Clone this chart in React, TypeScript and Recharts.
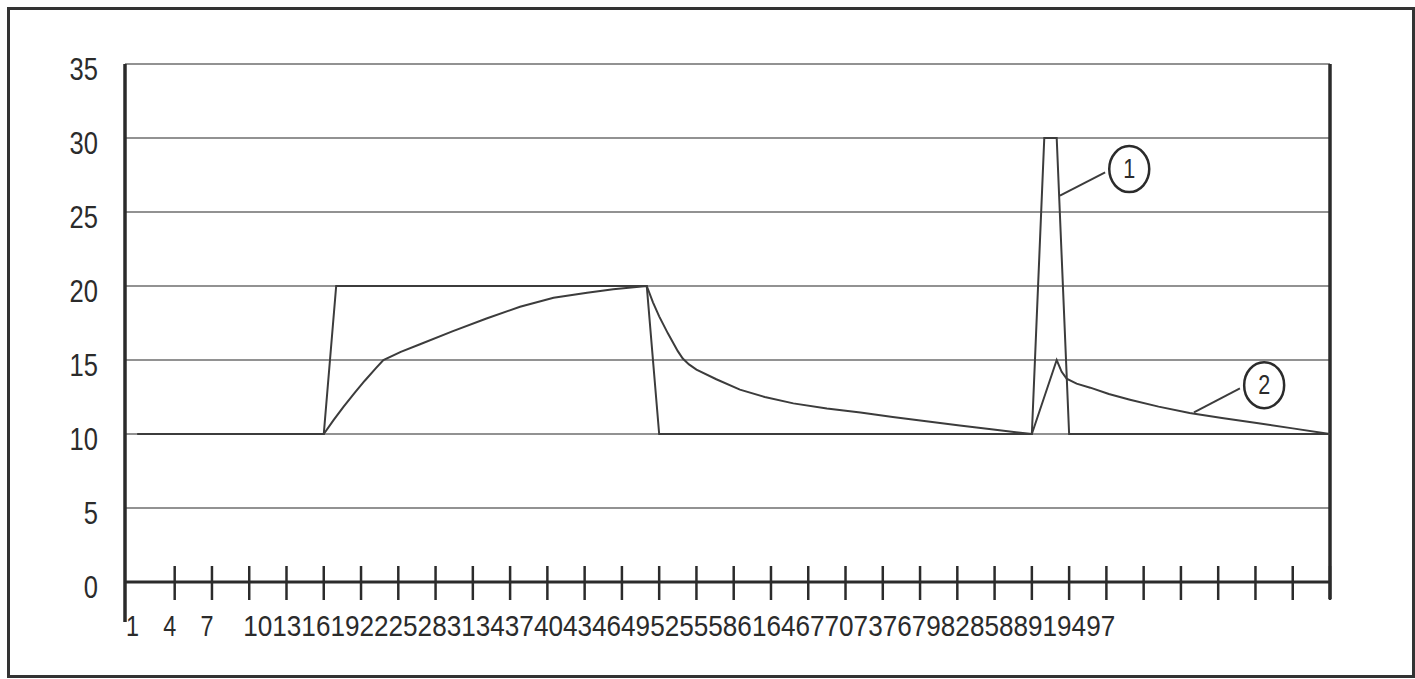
import React from "react";
import {
  CartesianGrid,
  Line,
  LineChart,
  ReferenceDot,
  ReferenceLine,
  XAxis,
  YAxis,
} from "recharts";

const xTicks = [1, 4, 7, 10, 13, 16, 19, 22, 25, 28, 31, 34, 37, 40, 43, 46, 49, 52, 55, 58, 61, 64, 67, 70, 73, 76, 79, 82, 85, 88, 91, 94, 97];
const yTicks = [0, 5, 10, 15, 20, 25, 30, 35];

// curve 1: square input
const pulseX = [1, 16, 17, 42, 43, 73, 74, 75, 76, 97];
const pulseY = [10, 10, 20, 20, 10, 10, 30, 30, 10, 10];

// curve 2: response
const responseX = [
  1, 16, 16.8, 17.6, 18.5, 19.3, 20.2, 20.8, 22.2, 23.7, 26.4, 29.1, 31.8, 34.5, 37.2, 39.3, 42,
  42.5, 43.0, 43.7, 44.5, 44.9, 45.4, 46, 47.6, 49.5, 51.5, 53.8, 56.5, 59.2, 61.8, 64.5, 67.2, 69.9, 73,
  75, 75.4, 75.8, 76.6, 77.7, 79.2, 80.9, 83.2, 85.7, 88.3, 91.1, 94, 97,
];
const responseY = [
  10, 10, 10.95, 11.85, 12.8, 13.6, 14.45, 15, 15.55, 16.05, 16.95, 17.8, 18.6, 19.2, 19.55, 19.78, 20,
  18.9, 17.95, 16.8, 15.6, 15.1, 14.7, 14.35, 13.7, 13, 12.5, 12.07, 11.72, 11.45, 11.15, 10.86, 10.58, 10.3, 10,
  15, 14.2, 13.74, 13.4, 13.13, 12.7, 12.32, 11.85, 11.42, 11.08, 10.74, 10.38, 10,
];

const pulse = pulseX.map((x, i) => ({ x, v: pulseY[i] }));
const response = responseX.map((x, i) => ({ x, v: responseY[i] }));

const face = "'Liberation Sans', Arial, sans-serif";
const ink = "#2b2b2b";
const lineInk = "#3c3c3c";

function XTick({ x, y, payload }: any) {
  const v = payload.value as number;
  let label = null;
  if (v < 10) {
    label = (
      <text
        x={x - 5}
        y={y + 54}
        textAnchor="middle"
        fontFamily={face}
        fontSize={30}
        fill={ink}
        textLength={13}
        lengthAdjust="spacingAndGlyphs"
      >
        {v}
      </text>
    );
  } else if (v === 10) {
    label = (
      <text
        x={x - 6}
        y={y + 54}
        textAnchor="start"
        fontFamily={face}
        fontSize={30}
        fill={ink}
        textLength={872}
        lengthAdjust="spacingAndGlyphs"
      >
        {xTicks.filter((n) => n >= 10).join("")}
      </text>
    );
  }
  return (
    <g>
      {v >= 4 && <line x1={x} x2={x} y1={y - 16} y2={y + 18} stroke={ink} strokeWidth={2.5} />}
      {label}
    </g>
  );
}

function YTick({ x, y, payload }: any) {
  const s = String(payload.value);
  return (
    <text
      x={x - 27}
      y={y + 16}
      textAnchor="end"
      fontFamily={face}
      fontSize={32}
      fill={ink}
      textLength={14.2 * s.length}
      lengthAdjust="spacingAndGlyphs"
    >
      {s}
    </text>
  );
}

function Badge({ cx, cy, label }: any) {
  return (
    <g>
      <ellipse cx={cx} cy={cy} rx={20} ry={23} fill="#fff" stroke={ink} strokeWidth={2.5} />
      <text
        x={cx}
        y={cy + 9}
        textAnchor="middle"
        fontFamily={face}
        fontSize={27}
        fill={ink}
        textLength={12}
        lengthAdjust="spacingAndGlyphs"
      >
        {label}
      </text>
    </g>
  );
}

export default function App() {
  return (
    <div
      style={{
        position: "absolute",
        left: 7,
        top: 7,
        width: 1408,
        height: 671,
        boxSizing: "border-box",
        border: "3px solid #333",
        background: "#fff",
      }}
    >
      <LineChart width={1402} height={665} margin={{ top: 54, right: 82, bottom: 33, left: 0 }}>
        <CartesianGrid vertical={false} stroke="#6e6e6e" strokeWidth={1.6} />
        <XAxis
          type="number"
          dataKey="x"
          domain={[0, 97]}
          ticks={xTicks}
          interval={0}
          height={60}
          tickSize={0}
          tickMargin={0}
          tickLine={false}
          axisLine={{ stroke: ink, strokeWidth: 3 }}
          tick={<XTick />}
          allowDataOverflow
        />
        <YAxis
          type="number"
          domain={[0, 35]}
          ticks={yTicks}
          width={115}
          tickSize={0}
          tickMargin={0}
          tickLine={false}
          axisLine={false}
          tick={<YTick />}
        />
        <ReferenceLine
          segment={[{ x: 0, y: 35 }, { x: 0, y: -2.7 }]}
          stroke={ink}
          strokeWidth={3.5}
          ifOverflow="visible"
        />
        <ReferenceLine
          segment={[{ x: 97, y: 35 }, { x: 97, y: -1.15 }]}
          stroke={ink}
          strokeWidth={3.5}
          ifOverflow="visible"
        />
        <Line
          data={pulse}
          dataKey="v"
          type="linear"
          stroke={lineInk}
          strokeWidth={2}
          dot={false}
          isAnimationActive={false}
        />
        <Line
          data={response}
          dataKey="v"
          type="linear"
          stroke={lineInk}
          strokeWidth={2}
          dot={false}
          isAnimationActive={false}
        />
        <ReferenceLine
          segment={[{ x: 78.9, y: 27.67 }, { x: 75.26, y: 26.1 }]}
          stroke={lineInk}
          strokeWidth={2}
        />
        <ReferenceLine
          segment={[{ x: 89.75, y: 13.08 }, { x: 86.05, y: 11.46 }]}
          stroke={lineInk}
          strokeWidth={2}
        />
        <ReferenceDot x={80.84} y={27.9} r={20} shape={(p: any) => <Badge {...p} label="1" />} />
        <ReferenceDot x={91.7} y={13.3} r={20} shape={(p: any) => <Badge {...p} label="2" />} />
      </LineChart>
    </div>
  );
}
